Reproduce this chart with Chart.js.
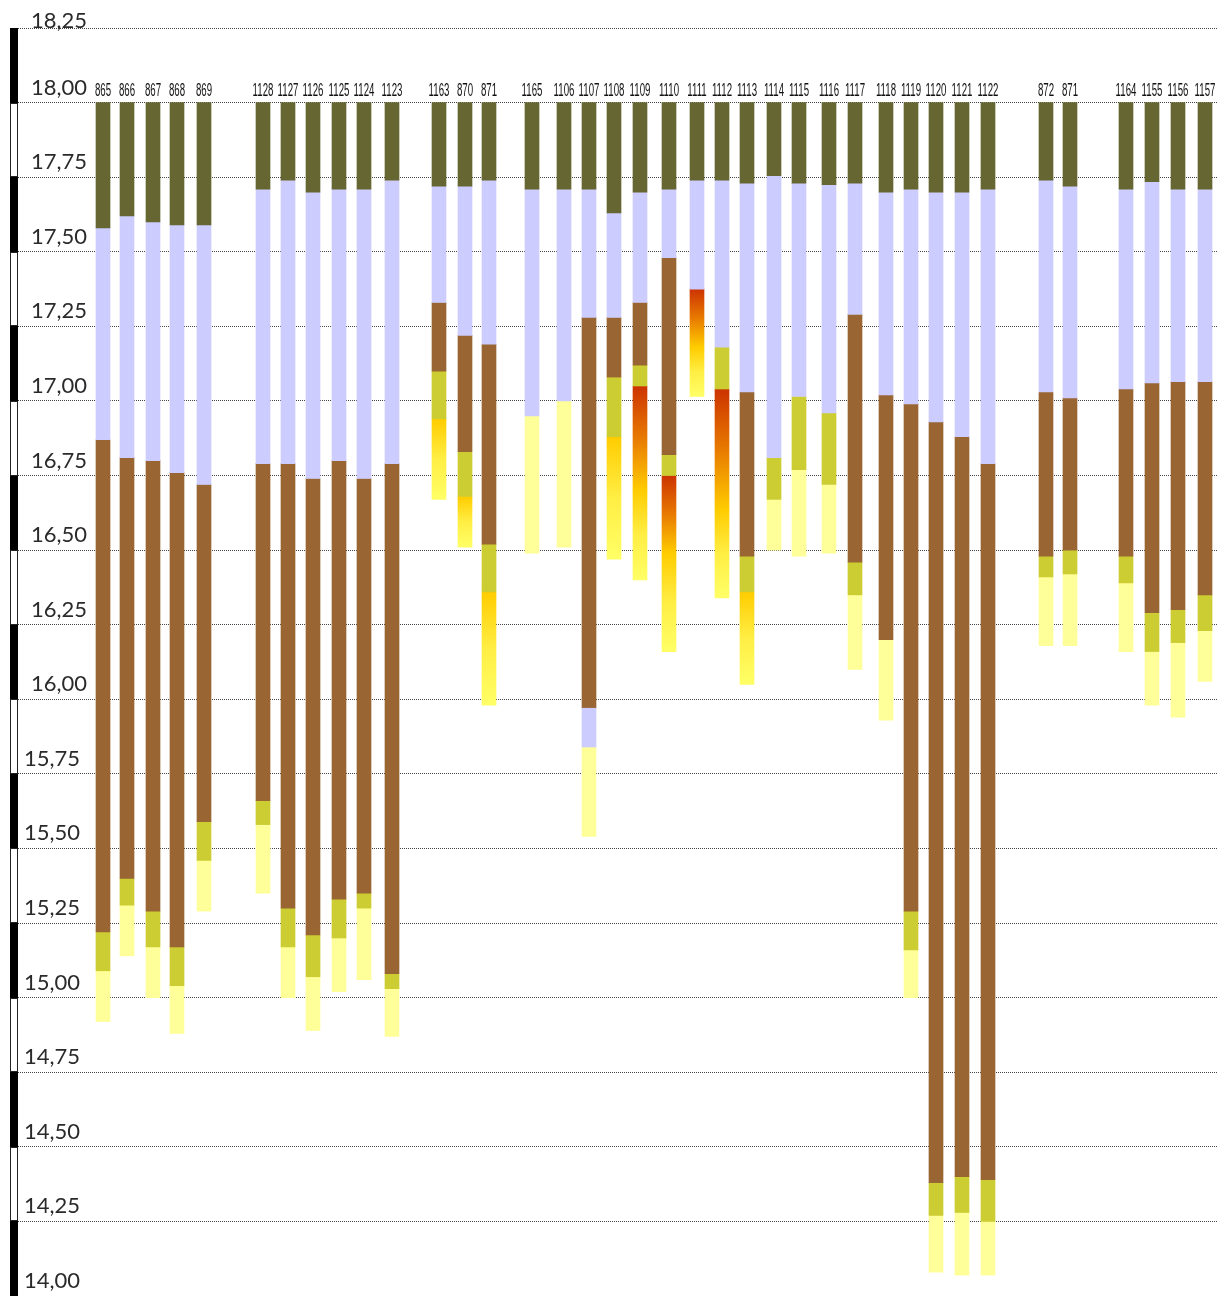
<!DOCTYPE html>
<html>
<head>
<meta charset="utf-8">
<script src="https://cdn.jsdelivr.net/npm/chart.js@4.4.1/dist/chart.umd.min.js"></script>
<style>
  html, body { margin: 0; padding: 0; background: #fff; }
  #wrap { width: 1229px; height: 1296px; }
</style>
</head>
<body>
<div id="wrap"><canvas id="thecanvas"></canvas></div>
<script>
// boreholes, left to right along the profile
const holes = ['865','866','867','868','869','1128','1127','1126','1125','1124','1123',
  '1163','870','871','1165','1106','1107','1108','1109','1110','1111','1112','1113',
  '1114','1115','1116','1117','1118','1119','1120','1121','1122','872','871',
  '1164','1155','1156','1157'];

// distance along the profile (m)
const dist = [8.5,10.9,13.5,15.9,18.6,24.5,27.0,29.5,32.1,34.6,37.4,
  42.1,44.7,47.1,51.4,54.6,57.1,59.6,62.2,65.1,67.9,70.4,72.9,
  75.6,78.1,81.1,83.7,86.8,89.3,91.8,94.4,97.0,102.8,105.2,
  110.8,113.4,116.0,118.7];

// layer codes from top down
// O topsoil, L clay, B peat, Y sandy clay, P sand, G gravelly sand, R oxidised sand
const layers = ['OLBYP','OLBYP','OLBYP','OLBYP','OLBYP','OLBYP','OLBYP','OLBYP','OLBYP','OLBYP','OLBYP',
  'OLBYG','OLBYG','OLBYG','OLP','OLP','OLBLP','OLBYG','OLBYRG','OLBYRG','OLRG','OLYRG','OLBYG',
  'OLYP','OLYP','OLYP','OLBYP','OLBP','OLBYP','OLBYP','OLBYP','OLBYP','OLBYP','OLBYP',
  'OLBYP','OLBYP','OLBYP','OLBYP'];

// layer boundaries (m), top first
const levels = [
  [18.00,17.58,16.87,15.22,15.09,14.92],
  [18.00,17.62,16.81,15.40,15.31,15.14],
  [18.00,17.60,16.80,15.29,15.17,15.00],
  [18.00,17.59,16.76,15.17,15.04,14.88],
  [18.00,17.59,16.72,15.59,15.46,15.29],
  [18.00,17.71,16.79,15.66,15.58,15.35],
  [18.00,17.74,16.79,15.30,15.17,15.00],
  [18.00,17.70,16.74,15.21,15.07,14.89],
  [18.00,17.71,16.80,15.33,15.20,15.02],
  [18.00,17.71,16.74,15.35,15.30,15.06],
  [18.00,17.74,16.79,15.08,15.03,14.87],
  [18.00,17.72,17.33,17.10,16.94,16.67],
  [18.00,17.72,17.22,16.83,16.68,16.51],
  [18.00,17.74,17.19,16.52,16.36,15.98],
  [18.00,17.71,16.95,16.49],
  [18.00,17.71,17.00,16.51],
  [18.00,17.71,17.28,15.97,15.84,15.54],
  [18.00,17.63,17.28,17.08,16.88,16.47],
  [18.00,17.70,17.33,17.12,17.05,16.70,16.40],
  [18.00,17.71,17.48,16.82,16.75,16.49,16.16],
  [18.00,17.74,17.375,17.18,17.015],
  [18.00,17.74,17.18,17.04,16.635,16.34],
  [18.00,17.73,17.03,16.48,16.36,16.05],
  [18.00,17.755,16.81,16.67,16.50],
  [18.00,17.73,17.015,16.77,16.48],
  [18.00,17.725,16.96,16.72,16.49],
  [18.00,17.73,17.29,16.46,16.35,16.10],
  [18.00,17.70,17.02,16.20,15.93],
  [18.00,17.71,16.99,15.29,15.16,15.00],
  [18.00,17.70,16.93,14.38,14.27,14.08],
  [18.00,17.70,16.88,14.40,14.28,14.07],
  [18.00,17.71,16.79,14.39,14.25,14.07],
  [18.00,17.74,17.03,16.48,16.41,16.18],
  [18.00,17.72,17.01,16.50,16.42,16.18],
  [18.00,17.71,17.04,16.48,16.39,16.16],
  [18.00,17.735,17.06,16.29,16.16,15.98],
  [18.00,17.71,17.065,16.30,16.19,15.94],
  [18.00,17.71,17.065,16.35,16.23,16.06]
];

const yMin = 14.00, yMax = 18.25, yStep = 0.25;

const layercolors = {
  O: '#666633', L: '#ccccff', B: '#996633', Y: '#cccc33', P: '#ffff99',
  G: ['#ffcc00', '#ffee44', '#ffff66'],
  R: ['#cc3300', '#e87a00', '#ffcc00']
};

function gradfill(stops) {
  return function (c) {
    const ys = c.chart.scales.y;
    if (!c.raw || !ys) return stops[1];
    const top = ys.getPixelForValue(c.raw.y[1]);
    const bot = ys.getPixelForValue(c.raw.y[0]);
    if (!isFinite(top) || !isFinite(bot) || top === bot) return stops[1];
    const g = c.chart.ctx.createLinearGradient(0, top, 0, bot);
    stops.forEach((s, i) => g.addColorStop(i / (stops.length - 1), s));
    return g;
  };
}

const datasets = [];
'OLBYPRG'.split('').forEach(code => {
  const pts = [];
  for (let i = 0; i < holes.length; i++) {
    for (let k = 0; k < layers[i].length; k++) {
      if (layers[i][k] === code) {
        pts.push({ x: dist[i], y: [levels[i][k + 1], levels[i][k]] });
      }
    }
  }
  const col = layercolors[code];
  datasets.push({
    label: code,
    data: pts,
    backgroundColor: Array.isArray(col) ? gradfill(col) : col,
    borderWidth: 0,
    barThickness: 14,
    grouped: false
  });
});

// scale bar, tick labels and hole names
const extras = {
  id: 'extras',
  afterDatasetsDraw(chart) {
    const ctx = chart.ctx;
    const ys = chart.scales.y;
    const xs = chart.scales.x;
    const n = Math.round((yMax - yMin) / yStep);

    ctx.save();
    for (let i = 0; i < n; i++) {
      const hi = yMax - i * yStep;
      const t = Math.round(ys.getPixelForValue(hi));
      const b = Math.round(ys.getPixelForValue(hi - yStep));
      if (i % 2 === 0) {
        ctx.fillStyle = '#000';
        ctx.fillRect(10, t, 8, b - t);
      } else {
        ctx.strokeStyle = '#222';
        ctx.lineWidth = 1;
        ctx.strokeRect(10.5, t + 0.5, 7, b - t - 1);
      }
    }

    ctx.fillStyle = '#2a2a2a';
    ctx.font = '22px Lato, "Open Sans", sans-serif';
    ctx.textAlign = 'left';
    ctx.textBaseline = 'alphabetic';
    for (let i = 0; i <= n; i++) {
      const v = yMax - i * yStep;
      const py = ys.getPixelForValue(v);
      let base = py - 8;
      if (base < 28) base = 28;
      const lx = v >= 16 ? 31 : 24;
      ctx.fillText(v.toFixed(2).replace('.', ','), lx, base);
    }

    // narrow hole labels: squeeze the font to about 5.2 px per digit
    ctx.fillStyle = '#111';
    ctx.font = '18px "Liberation Sans Narrow", "Liberation Sans", Arial, sans-serif';
    ctx.textAlign = 'center';
    const sx = 20.8 / ctx.measureText('1128').width;
    const top = ys.getPixelForValue(18.00);
    for (let i = 0; i < holes.length; i++) {
      ctx.save();
      ctx.translate(xs.getPixelForValue(dist[i]), top - 7);
      ctx.scale(sx, 1);
      ctx.fillText(holes[i], 0, 0);
      ctx.restore();
    }
    ctx.restore();
  }
};

const mychart = new Chart(document.getElementById('thecanvas'), {
  type: 'bar',
  data: { datasets: datasets },
  plugins: [extras],
  options: {
    responsive: true,
    maintainAspectRatio: false,
    animation: false,
    layout: { padding: { left: 18, right: 11, top: 28, bottom: 0 } },
    plugins: { legend: { display: false }, tooltip: { enabled: false } },
    scales: {
      x: { type: 'linear', min: 0, max: 120, offset: false, display: false },
      y: {
        min: yMin, max: yMax,
        ticks: { stepSize: yStep, display: false },
        grid: { color: '#444', lineWidth: 1, drawTicks: false },
        border: { display: false, dash: [1, 1] },
        afterFit: s => { s.width = 0; }
      }
    }
  }
});
</script>
</body>
</html>
